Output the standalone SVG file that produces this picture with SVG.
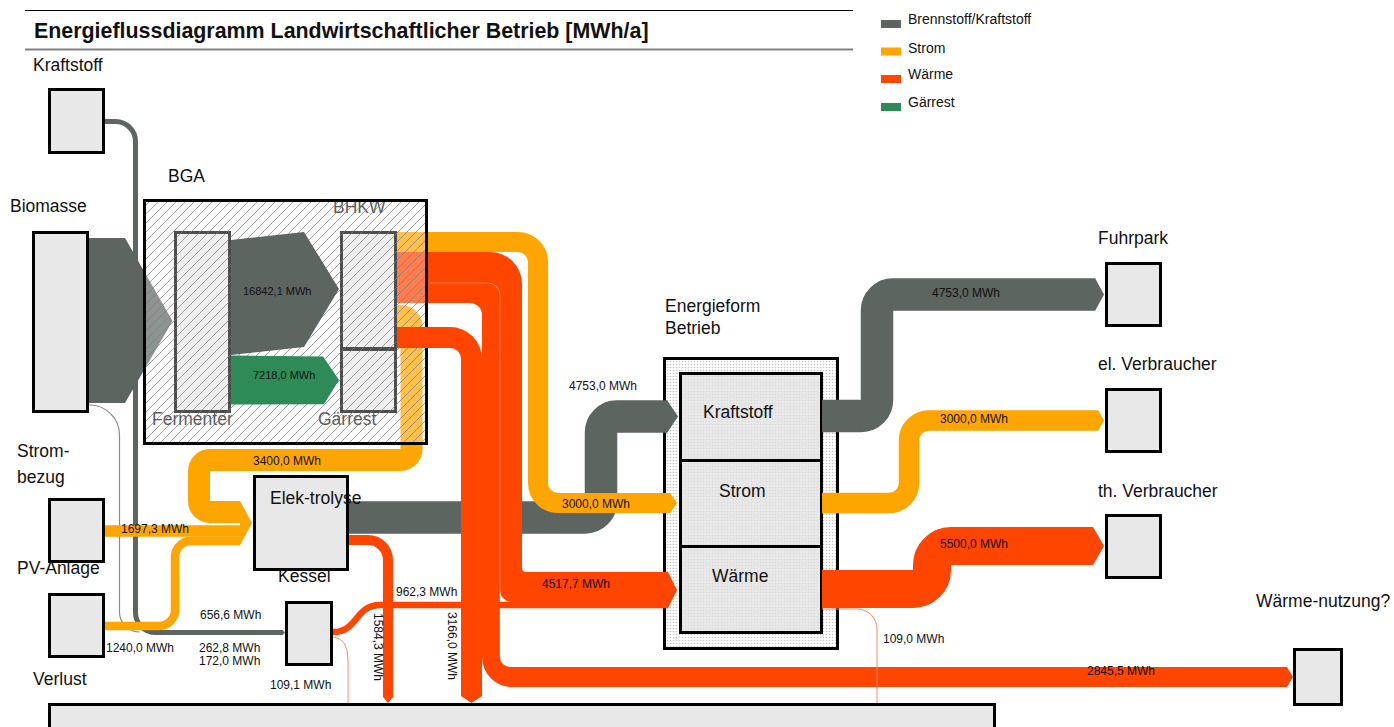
<svg xmlns="http://www.w3.org/2000/svg" width="1394" height="727" viewBox="0 0 1394 727">
<defs>
  <pattern id="hatch" patternUnits="userSpaceOnUse" width="9" height="9">
    <path d="M-1,1 l2,-2 M0,9 l9,-9 M8,10 l2,-2" stroke="#7a7a7a" stroke-width="0.7"/>
  </pattern>
  <pattern id="dots" patternUnits="userSpaceOnUse" width="3" height="3">
    <rect width="3" height="3" fill="#fff"/>
    <circle cx="1.5" cy="1.5" r="0.8" fill="#c2c2c2"/>
  </pattern>
  <pattern id="dots2" patternUnits="userSpaceOnUse" width="3" height="3">
    <rect width="3" height="3" fill="#e8e8e8"/>
    <circle cx="1.5" cy="1.5" r="0.7" fill="#dadada"/>
  </pattern>
</defs>
<style>
  .box{fill:#e8e8e8;stroke:#000;stroke-width:3}
  .lbl{font-family:"Liberation Sans",Arial,sans-serif;font-size:17.5px;fill:#111}
  .fl{font-family:"Liberation Sans",Arial,sans-serif;font-size:12px;fill:#111}
  .fls{font-family:"Liberation Sans",Arial,sans-serif;font-size:11px;fill:#111}
  .leg{font-family:"Liberation Sans",Arial,sans-serif;font-size:14px;fill:#111}
  .g{fill:#5c6560}
  .gS{fill:none;stroke:#5c6560}
  .o{fill:#ffa500}
  .oS{fill:none;stroke:#ffa500}
  .r{fill:#ff4500}
  .rS{fill:none;stroke:#ff4500}
  .gr{fill:#2e8b57}
  .thin{fill:none;stroke:#ff8a65;stroke-width:1}
</style>

<!-- Title and legend -->
<g id="title">
  <path d="M25 10.5 H853" stroke="#000" stroke-width="1"/>
  <path d="M25 49.5 H853" stroke="#808080" stroke-width="2"/>
  <text x="34" y="38" font-family="Liberation Sans, Arial, sans-serif" font-size="21.4" font-weight="bold" fill="#111">Energieflussdiagramm Landwirtschaftlicher Betrieb [MWh/a]</text>
</g>
<g id="legend">
  <rect x="881" y="20" width="20" height="8" class="g"/>
  <text x="908" y="24" class="leg">Brennstoff/Kraftstoff</text>
  <rect x="881" y="47.5" width="20" height="8" class="o"/>
  <text x="908" y="52.5" class="leg">Strom</text>
  <rect x="881" y="75" width="20" height="8" class="r"/>
  <text x="908" y="79" class="leg">Wärme</text>
  <rect x="881" y="103" width="20" height="8" class="gr"/>
  <text x="908" y="107" class="leg">Gärrest</text>
</g>

<!-- Energieform Betrieb (drawn below the arrows) -->
<g id="node-energieform">
  <rect x="664.5" y="358.5" width="173" height="290" fill="url(#dots)" stroke="#000" stroke-width="3"/>
  <rect x="680.5" y="373.5" width="141" height="87" fill="url(#dots2)" stroke="#000" stroke-width="3"/>
  <rect x="680.5" y="460.5" width="141" height="86" fill="url(#dots2)" stroke="#000" stroke-width="3"/>
  <rect x="680.5" y="546.5" width="141" height="86" fill="url(#dots2)" stroke="#000" stroke-width="3"/>
  <text x="665" y="312" class="lbl">Energieform</text>
  <text x="665" y="334" class="lbl">Betrieb</text>
  <text x="703" y="418" class="lbl">Kraftstoff</text>
  <text x="719" y="497" class="lbl">Strom</text>
  <text x="712" y="582" class="lbl">Wärme</text>
</g>

<!-- Connectors -->
<g id="connectors">
  <polygon points="89,238 125,238 172.5,321 125,403 89,403" class="g"/>
  <path d="M104 121.5 H115.5 A20 20 0 0 1 135.5 141.5 V612.5 A20 20 0 0 0 155.5 632.5 H282" class="gS" stroke-width="5"/>
  <polygon points="282,629.5 285,632.5 282,635.5" class="g"/>
  <path d="M89 405 A30 30 0 0 1 119.5 435 V612 A20 20 0 0 0 139.5 632" fill="none" stroke="#8a8a8a" stroke-width="1.2"/>
  <path d="M349 517.5 H585 A16 16 0 0 0 601 501.5 V432.5 A16 16 0 0 1 617 416.5 H667" class="gS" stroke-width="32.5"/>
  <polygon points="667,400 678,416.5 667,433" class="g"/>
  <path d="M397 252 H490 A32 32 0 0 1 522 284 V568 A4 4 0 0 0 526 572 H668 V602 H512 A12 12 0 0 1 500 590 V295 A12 12 0 0 0 488 283 H397 Z" class="r"/>
  <path d="M397 283 H488 A12 12 0 0 1 500 295 V657 A10 10 0 0 0 510 667 H1287 V687 H512 A30 30 0 0 1 482 657 V315 A12 12 0 0 0 470 303 H397 Z" class="r"/>
  <path d="M430 283 H488 A12 12 0 0 1 500 295 V657" fill="none" stroke="#fff" stroke-opacity="0.35" stroke-width="0.8"/>
  <polygon points="1287,667 1293,677 1287,687" class="r"/>
  <path d="M333 632 C358 632 355 605 380 605 H668" class="rS" stroke-width="6.4"/>
  <polygon points="668,572 677,590 668,608" class="r"/>
  <path d="M349 540 H368 A20 20 0 0 1 388 560 V697" class="rS" stroke-width="10"/>
  <polygon points="383,697 388,703 393,697" class="r"/>
  <path d="M333 637 Q348 638 348 660 V703" class="thin"/>
  <path d="M822 609 H857 A20 20 0 0 1 877 629 V703" class="thin"/>
  <path d="M397 242 H518 A20 20 0 0 1 538 262 V483 A20 20 0 0 0 558 503 H670" class="oS" stroke-width="20"/>
  <polygon points="670,493 677,503 670,513" class="o"/>
  <path d="M397 316 H401 A10.5 10.5 0 0 1 411.5 326.5 V449 A11 11 0 0 1 400.5 460 H210 A11 11 0 0 0 199 471 V501 A11 11 0 0 0 210 512 H240" class="oS" stroke-width="22"/>
  <path d="M103 531 H240" class="oS" stroke-width="11.5"/>
  <path d="M103 626 H159 A16 16 0 0 0 175 610 V557 A16 16 0 0 1 191 541 H240" class="oS" stroke-width="8.5"/>
  <polygon points="240,501 252,523 240,545" class="o"/>
  <path d="M822 416 H861 A16 16 0 0 0 877 400 V310.5 A16 16 0 0 1 893 294.5 H1095" class="gS" stroke-width="32.5"/>
  <polygon points="1095,278 1104,294.5 1095,311" class="g"/>
  <path d="M822 503 H889 A20 20 0 0 0 909 483 V440.5 A20 20 0 0 1 929 420.5 H1098" class="oS" stroke-width="20.5"/>
  <polygon points="1098,410 1104,420.5 1098,431" class="o"/>
  <path d="M822 589 H913 A19 19 0 0 0 932 570 V565 A19 19 0 0 1 951 546 H1093" class="rS" stroke-width="38"/>
  <polygon points="1093,527 1104,546 1093,565" class="r"/>
</g>

<!-- BGA inner nodes (under the BGA overlay) -->
<g id="node-fermenter">
  <rect x="175.5" y="232.5" width="54" height="179" class="box"/>
  <text x="152" y="425" class="lbl">Fermenter</text>
</g>
<g id="node-bhkw">
  <rect x="341.5" y="232.5" width="54" height="116" class="box"/>
  <text x="333" y="213" class="lbl">BHKW</text>
</g>
<g id="node-gaerrest">
  <rect x="341.5" y="349.5" width="54" height="62" class="box"/>
  <text x="318" y="425" class="lbl">Gärrest</text>
</g>
<g id="node-bga">
  <rect x="144.5" y="200.5" width="282" height="243" fill="#fff" fill-opacity="0.3"/>
  <rect x="144.5" y="200.5" width="282" height="243" fill="url(#hatch)"/>
  <rect x="144.5" y="200.5" width="282" height="243" fill="none" stroke="#000" stroke-width="3"/>
  <text x="168" y="182" class="lbl">BGA</text>
</g>

<!-- Connectors drawn above the BGA overlay -->
<g id="connectors-top">
  <polygon points="231,240 304,232 339,289 304,347 231,355" class="g"/>
  <polygon points="231,355.5 323,356.5 339,380 324,404.3 231,404.5" class="gr"/>
  <path d="M397 327 H450 A32 32 0 0 1 482 359 V696 L471.5 703 L461 696 V359 A11 11 0 0 0 450 348 H397 Z" class="r"/>
</g>

<!-- Nodes -->
<g id="node-kraftstoff">
  <rect x="49.5" y="89.5" width="54" height="63" class="box"/>
  <text x="33" y="71" class="lbl">Kraftstoff</text>
</g>
<g id="node-biomasse">
  <rect x="33.5" y="232.5" width="54" height="179" class="box"/>
  <text x="10" y="212" class="lbl">Biomasse</text>
</g>
<g id="node-strombezug">
  <rect x="49.5" y="499.5" width="54" height="62" class="box"/>
  <text x="17" y="457" class="lbl">Strom-</text>
  <text x="17" y="483" class="lbl">bezug</text>
</g>
<g id="node-pv">
  <rect x="49.5" y="594.5" width="54" height="62" class="box"/>
  <text x="17" y="574" class="lbl">PV-Anlage</text>
</g>
<g id="node-elektrolyse">
  <rect x="254.5" y="476.5" width="93" height="93" class="box"/>
  <text x="270" y="504" class="lbl">Elek-trolyse</text>
</g>
<g id="node-kessel">
  <rect x="286.5" y="602.5" width="45" height="62" class="box"/>
  <text x="278" y="582" class="lbl">Kessel</text>
</g>
<g id="node-verlust">
  <rect x="49.5" y="704.5" width="945" height="40" class="box"/>
  <text x="33" y="685" class="lbl">Verlust</text>
</g>
<g id="node-fuhrpark">
  <rect x="1106.5" y="263.5" width="54" height="62" class="box"/>
  <text x="1098" y="244" class="lbl">Fuhrpark</text>
</g>
<g id="node-elverbraucher">
  <rect x="1106.5" y="389.5" width="54" height="62" class="box"/>
  <text x="1098" y="370" class="lbl">el. Verbraucher</text>
</g>
<g id="node-thverbraucher">
  <rect x="1106.5" y="515.5" width="54" height="62" class="box"/>
  <text x="1098" y="497" class="lbl">th. Verbraucher</text>
</g>
<g id="node-waermenutzung">
  <rect x="1294.5" y="649.5" width="47" height="55" class="box"/>
  <text x="1256" y="607" class="lbl">Wärme-nutzung?</text>
</g>

<!-- Flow labels -->
<g id="flow-labels">
  <text x="243" y="295" class="fls">16842,1 MWh</text>
  <text x="253" y="379" class="fls">7218,0 MWh</text>
  <text x="253" y="465" class="fl">3400,0 MWh</text>
  <text x="121" y="533" class="fl">1697,3 MWh</text>
  <text x="106" y="652" class="fl">1240,0 MWh</text>
  <text x="200" y="619" class="fl">656,6 MWh</text>
  <text x="199" y="652" class="fl">262,8 MWh</text>
  <text x="199" y="665" class="fl">172,0 MWh</text>
  <text x="270" y="689" class="fl">109,1 MWh</text>
  <text x="396" y="596" class="fl">962,3 MWh</text>
  <text transform="translate(373.5,613) rotate(90)" class="fl">1584,3 MWh</text>
  <text transform="translate(447.5,612) rotate(90)" class="fl">3166,0 MWh</text>
  <text x="542" y="588" class="fl">4517,7 MWh</text>
  <text x="562" y="508" class="fl">3000,0 MWh</text>
  <text x="569" y="390" class="fl">4753,0 MWh</text>
  <text x="932" y="297" class="fl">4753,0 MWh</text>
  <text x="940" y="423" class="fl">3000,0 MWh</text>
  <text x="940" y="548" class="fl">5500,0 MWh</text>
  <text x="883" y="643" class="fl">109,0 MWh</text>
  <text x="1087" y="675" class="fl">2845,5 MWh</text>
</g>
</svg>
